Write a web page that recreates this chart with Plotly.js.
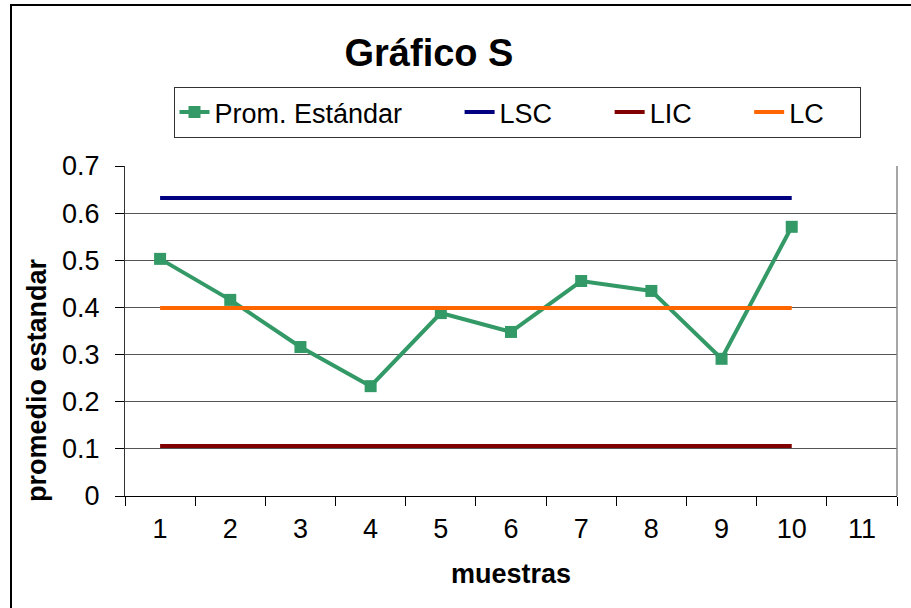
<!DOCTYPE html>
<html>
<head>
<meta charset="utf-8">
<script src="https://cdn.plot.ly/plotly-3.0.1.min.js"></script>
<style>html,body{margin:0;padding:0;background:#fff;}#chart{width:911px;height:608px;}</style>
</head>
<body>
<div id="chart"></div>
<script>
var categories = ["1","2","3","4","5","6","7","8","9","10","11"];
var muestras = ["1","2","3","4","5","6","7","8","9","10"];
var promEstandar = [0.503, 0.416, 0.316, 0.233, 0.388, 0.348, 0.456, 0.435, 0.291, 0.571];
var lsc = [0.632, 0.632, 0.632, 0.632, 0.632, 0.632, 0.632, 0.632, 0.632, 0.632];
var lic = [0.106, 0.106, 0.106, 0.106, 0.106, 0.106, 0.106, 0.106, 0.106, 0.106];
var lc  = [0.399, 0.399, 0.399, 0.399, 0.399, 0.399, 0.399, 0.399, 0.399, 0.399];
var yTicks = [0, 0.1, 0.2, 0.3, 0.4, 0.5, 0.6, 0.7];
var yTickText = ["0", "0.1", "0.2", "0.3", "0.4", "0.5", "0.6", "0.7"];
var seriesNames = ["Prom. Estándar", "LSC", "LIC", "LC"];

var F = "Arial, 'Liberation Sans', sans-serif";
var pad = "\u00a0\u00a0\u00a0\u00a0\u00a0\u00a0\u00a0";
var traces = [
  {x: muestras, y: promEstandar, name: seriesNames[0] + pad, mode: "lines+markers",
   line: {color: "#339966", width: 4}, marker: {symbol: "square", size: 12, color: "#339966"}},
  {x: muestras, y: lsc, name: seriesNames[1] + pad, mode: "lines", line: {color: "#000080", width: 4}},
  {x: muestras, y: lic, name: seriesNames[2] + pad, mode: "lines", line: {color: "#800000", width: 4}},
  {x: muestras, y: lc, name: seriesNames[3] + "\u00a0\u00a0\u00a0\u00a0", mode: "lines", line: {color: "#FF6600", width: 4}}
];
var layout = {
  width: 911, height: 608,
  margin: {l: 125, r: 14, t: 166, b: 112},
  paper_bgcolor: "#fff", plot_bgcolor: "#fff",
  font: {family: F, size: 27, color: "#000"},
  title: {text: "<b>Gráfico S</b>", font: {family: F, size: 38, color: "#000"},
          x: 429/911, xanchor: "center", y: 1 - 53/608, yanchor: "middle"},
  xaxis: {
    type: "category", categoryorder: "array", categoryarray: categories,
    range: [-0.5, 10.5], tickson: "boundaries", ticks: "outside", ticklen: 9,
    tickcolor: "#000", showline: true, linecolor: "#000", linewidth: 1,
    showgrid: false, zeroline: false, fixedrange: true, ticklabelstandoff: 9,
    tickfont: {family: F, size: 27},
    title: {text: "<b>muestras</b>", font: {family: F, size: 27}, standoff: 20}
  },
  yaxis: {
    range: [0, 0.7], tickmode: "array", tickvals: yTicks, ticktext: yTickText,
    ticks: "outside", ticklen: 9, tickcolor: "#000", ticklabelstandoff: 10,
    showline: true, linecolor: "#333", linewidth: 1, mirror: false,
    showgrid: true, gridcolor: "#555", gridwidth: 1, zeroline: false,
    tickfont: {family: F, size: 27}
  },
  annotations: [
    {text: "<b>promedio estandar</b>", xref: "paper", yref: "paper",
     x: (37 - 125)/772, y: (496 - 380)/330, xanchor: "center", yanchor: "middle",
     textangle: -90, showarrow: false, font: {family: F, size: 27, color: "#000"}}
  ],
  showlegend: true,
  legend: {
    orientation: "h", x: (517 - 125)/772, xanchor: "center",
    y: (496 - 87) / 330, yanchor: "top", traceorder: "normal",
    bordercolor: "#333", borderwidth: 1, bgcolor: "#fff",
    font: {family: F, size: 27}
  },
  shapes: [
    {type: "rect", xref: "paper", yref: "paper", x0: (11 - 125)/772, x1: 1.1, y0: -0.5, y1: (496 - 5)/330,
     line: {color: "#000", width: 2}, fillcolor: "rgba(0,0,0,0)", layer: "below"},
    {type: "line", xref: "paper", yref: "paper", x0: 1, x1: 1, y0: 0, y1: 1,
     line: {color: "#888", width: 1.5}}
  ]
};
Plotly.newPlot("chart", traces, layout, {displayModeBar: false, staticPlot: true});
</script>
</body>
</html>
